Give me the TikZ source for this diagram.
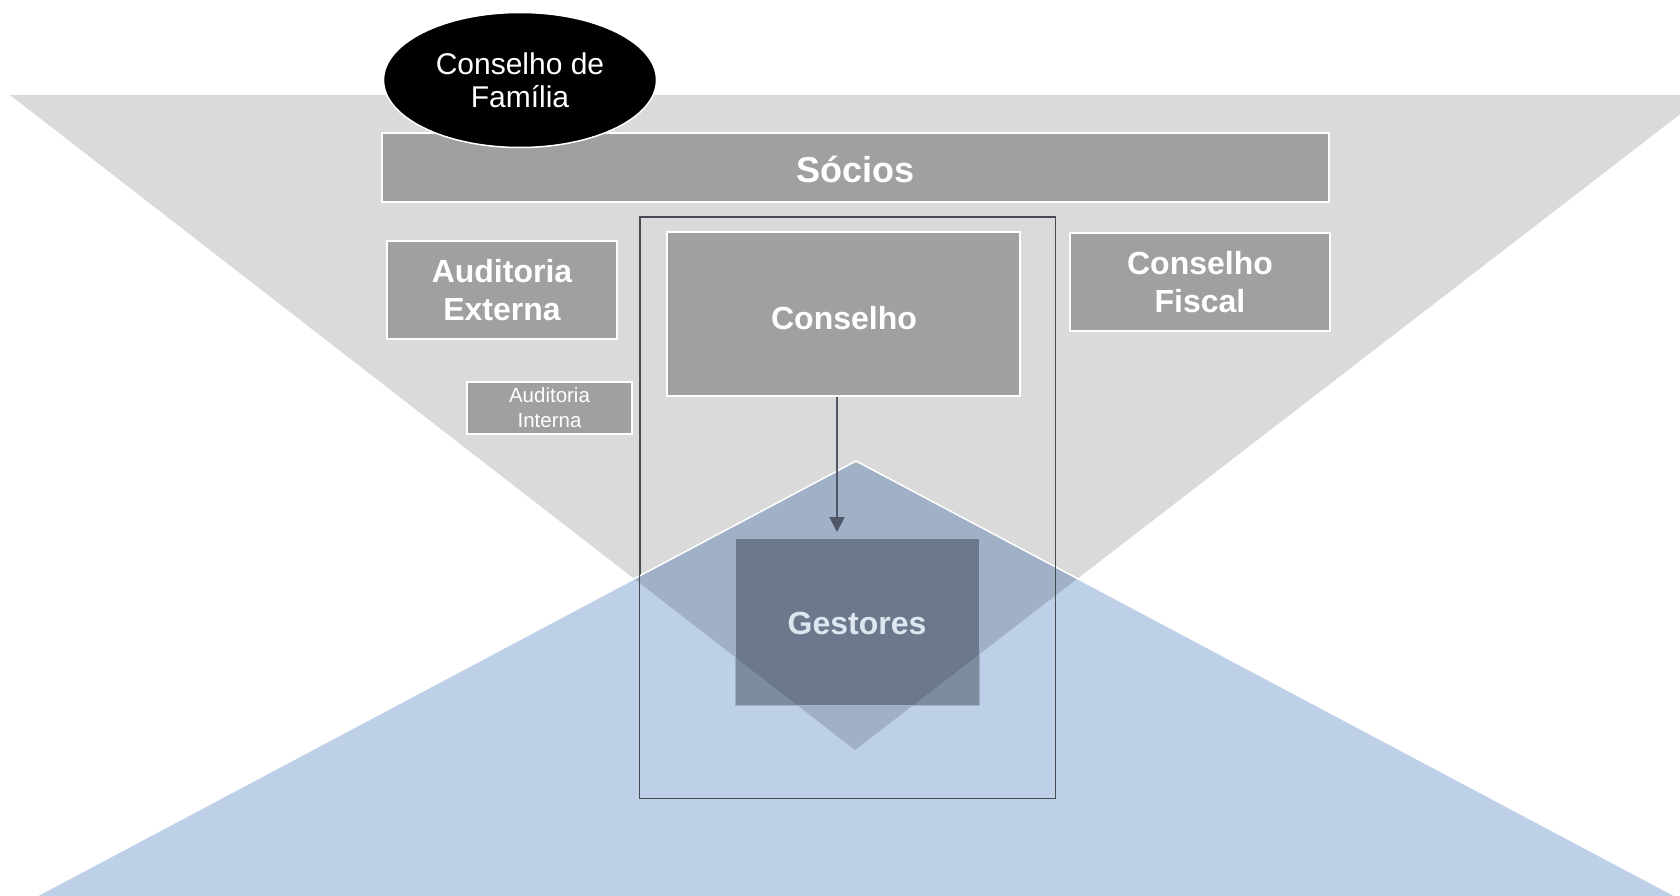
\documentclass[tikz,border=0pt]{standalone}
\usepackage{fontspec}
\setmainfont{Liberation Sans}
\usetikzlibrary{arrows.meta,shapes.geometric}
\definecolor{grayTri}{RGB}{218,218,218}
\definecolor{boxGray}{RGB}{160,160,160}
\definecolor{blueW}{RGB}{190,208,232}
\definecolor{blueG}{RGB}{160,176,199}
\definecolor{gestOut}{RGB}{126,140,160}
\definecolor{gestIn}{RGB}{108,121,140}
\definecolor{frameCol}{RGB}{70,74,82}
\definecolor{arrowCol}{RGB}{80,88,102}
\definecolor{gestText}{RGB}{222,230,240}
\tikzset{
  graybox/.style={draw=white, line width=1.5pt, fill=boxGray, inner sep=0pt, align=center, text=white},
  bigtext/.style={font=\fontsize{32}{37.5}\selectfont\bfseries},
}
\begin{document}
\begin{tikzpicture}[x=1pt,y=-1pt]
\useasboundingbox (0,0) rectangle (1680,896);
\fill[white] (0,0) rectangle (1680,896);
% gray inverted triangle
\begin{scope}
  \clip (0,0) rectangle (1680,896);
  \fill[grayTri] (10,95) -- (1705,95) -- (855,750) -- cycle;
\end{scope}
% frame
\node (frame) [draw=frameCol, line width=1pt, minimum width=415pt, minimum height=581pt, inner sep=0pt] at (847.5,507.5) {};
% boxes
\node (socios) [graybox, minimum width=947pt, minimum height=69pt, font=\fontsize{36}{40}\selectfont\bfseries] at (855.5,167.5) {};
\node (sociostext) [text=white, font=\fontsize{36}{40}\selectfont\bfseries, inner sep=0pt] at (855.5,169) {Sócios};
\node (audext) [graybox, bigtext, minimum width=230pt, minimum height=98pt] at (502,290) {Auditoria\\Externa};
\node (fiscal) [graybox, bigtext, minimum width=260pt, minimum height=98pt] at (1200,282) {Conselho\\Fiscal};
\node (cons) [graybox, minimum width=353pt, minimum height=164pt] at (843.5,314) {};
\node (constext) [text=white, bigtext, inner sep=0pt] at (844,318) {Conselho};
\node (audint) [graybox, font=\fontsize{20.5}{25}\selectfont, minimum width=165pt, minimum height=52pt] at (549.5,408) {Auditoria\\Interna};
% ellipse
\node (familia) [ellipse, fill=black, draw=white, line width=1.5pt, minimum width=273pt, minimum height=135pt, inner sep=0pt, text=white, align=center, font=\fontsize{30}{33}\selectfont] at (520,80) {Conselho de\\Família};
% blue triangle
\begin{scope}
  \clip (0,0) rectangle (1680,896);
  \fill[blueW] (856,461) -- (1796,960) -- (-84,960) -- cycle;
  \clip (10,95) -- (1705,95) -- (855,750) -- cycle;
  \fill[blueG] (856,461) -- (1796,960) -- (-84,960) -- cycle;
\end{scope}
\begin{scope}
  \clip (0,0) rectangle (1680,896);
  \draw[white, line width=1.5pt, line join=miter] (-84,960) -- (856,461) -- (1796,960);
\end{scope}
% frame lines over blue
\draw[frameCol, line width=1pt] (frame.north west) rectangle (frame.south east);
% gestores box
\fill[gestOut] (735,538) rectangle (979,705);
\begin{scope}
  \clip (10,95) -- (1705,95) -- (855,750) -- cycle;
  \fill[gestIn] (735,538) rectangle (979,705);
\end{scope}
\node (gest) [draw=blueG, line width=1pt, minimum width=244pt, minimum height=167pt, inner sep=0pt] at (857,621.5) {};
\node (gesttext) [text=gestText, bigtext, inner sep=0pt] at (857,623) {Gestores};
% arrow
\coordinate (arrowend) at (837,532);
\draw[arrowCol, line width=2pt, -{Triangle[width=15pt,length=15pt]}] (cons.south -| arrowend) -- (arrowend);
\end{tikzpicture}
\end{document}
